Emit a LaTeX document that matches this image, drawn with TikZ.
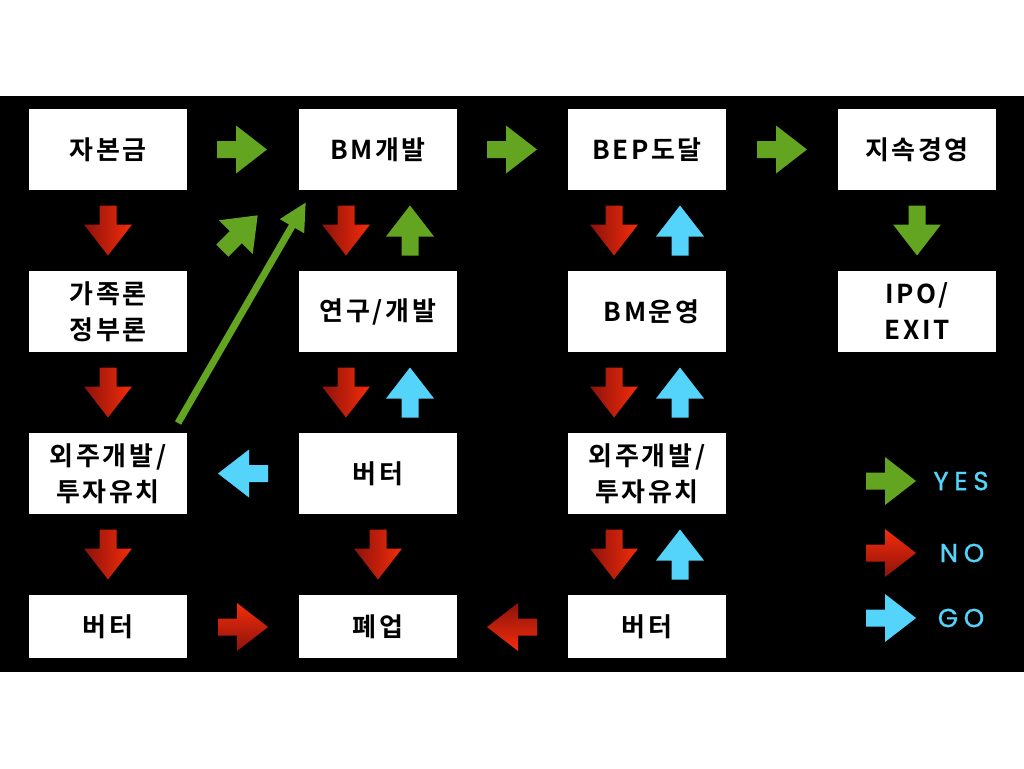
\documentclass[tikz,border=0pt]{standalone}
\usepackage{fontspec}
\usepackage{xcolor}
\usepackage{tikz}
\usetikzlibrary{arrows.meta}
\newfontfamily\kr[LetterSpace=10]{Noto Sans CJK KR Bold}
\newfontfamily\legfont[LetterSpace=22, FakeBold=1.2]{Poppins}
\definecolor{yesgrn}{RGB}{99,164,32}
\definecolor{nodark}{RGB}{140,18,12}
\definecolor{nolite}{RGB}{245,45,10}
\definecolor{gocyan}{RGB}{84,212,250}

%% block arrow, drawn pointing right and then turned: style, x, y, angle
\newcommand{\blkarrow}[4]{%
  \path[#1, shift={(#2,#3)}, rotate=#4]
    (-25,-8.5) -- (-6,-8.5) -- (-6,-24) -- (25,0) -- (-6,24) -- (-6,8.5) -- (-25,8.5) -- cycle;}

\begin{document}
\begin{tikzpicture}[x=1pt, y=-1pt,
  box/.style={fill=white, minimum width=158pt, minimum height=81pt, inner sep=0pt,
    align=center, font=\kr\fontsize{26}{36}\selectfont},
  lowbox/.style={box, minimum height=63pt},
  yesarr/.style={fill=yesgrn},
  goarr/.style={fill=gocyan},
  noarrR/.style={top color=nolite, bottom color=nodark},
  noarrL/.style={top color=nodark, bottom color=nolite},
  noarrD/.style={left color=nodark, right color=nolite},
  legtext/.style={text=gocyan, font=\legfont\fontsize{26}{26}\selectfont}]

\useasboundingbox (0,0) rectangle (1024,768);
\fill[black] (0,96) rectangle (1024,672);

%% boxes -- starting from top row

%% first row
\node[box] (cap)  at (108,149.5) {자본금};
\node[box] (bm)   at (378,149.5) {BM개발};
\node[box] (bep)  at (647,149.5) {BEP도달};
\node[box] (keep) at (917,149.5) {지속경영};

%% second row
\node[box] (fam)  at (108,311.5) {가족론\\정부론};
\node[box] (rnd)  at (378,311.5) {연구/개발};
\node[box] (run)  at (647,311.5) {\hspace*{9pt}BM운영};
\node[box] (ipo)  at (917,311.5) {IPO/\\EXIT};

%% third row
\node[box] (out1) at (108,473.5) {외주개발/\\투자유치};
\node[box] (hold) at (378,473.5) {버터};
\node[box] (out2) at (647,473.5) {외주개발/\\투자유치};

%% fourth row (bottom)
\node[lowbox] (hold1) at (108,626.5) {버터};
\node[lowbox] (close) at (378,626.5) {폐업};
\node[lowbox] (hold2) at (647,626.5) {버터};

%% arrows along the first row
\blkarrow{yesarr}{242}{149.5}{0}
\blkarrow{yesarr}{512}{149.5}{0}
\blkarrow{yesarr}{782}{149.5}{0}

%% arrows between first and second row
\blkarrow{noarrD}{108}{230.5}{-90}
\blkarrow{yesarr}{240}{233}{45}
\blkarrow{noarrD}{346}{230.5}{-90}
\blkarrow{yesarr}{410}{230.5}{90}
\blkarrow{noarrD}{614}{230.5}{-90}
\blkarrow{goarr}{680}{230.5}{90}
\blkarrow{yesarr}{917}{230.5}{-90}

%% arrows between second and third row
\blkarrow{noarrD}{108}{392.5}{-90}
\blkarrow{noarrD}{346}{392.5}{-90}
\blkarrow{goarr}{410}{392.5}{90}
\blkarrow{noarrD}{614}{392.5}{-90}
\blkarrow{goarr}{680}{392.5}{90}

%% third row
\blkarrow{goarr}{243}{473.5}{180}

%% arrows between third and fourth row
\blkarrow{noarrD}{108}{554.5}{-90}
\blkarrow{noarrD}{378}{554.5}{-90}
\blkarrow{noarrD}{614}{554.5}{-90}
\blkarrow{goarr}{680}{554.5}{90}

%% fourth row
\blkarrow{noarrR}{243}{627}{0}
\blkarrow{noarrL}{512}{627}{180}

%% long jump back to BM
\coordinate (jfrom) at (178,423);
\coordinate (jto) at (306,202);
\draw[yesgrn, line width=7pt, -{Triangle[length=28pt, width=26pt]}] (jfrom) -- (jto);

%% legend
\blkarrow{yesarr}{891}{481}{0}
\blkarrow{noarrR}{891}{553}{0}
\blkarrow{goarr}{891}{618}{0}
\node[legtext] (yes) at (961,481) {YES};
\node[legtext] (no)  at (962,553) {NO};
\node[legtext] (go)  at (961,618) {GO};

\end{tikzpicture}
\end{document}
